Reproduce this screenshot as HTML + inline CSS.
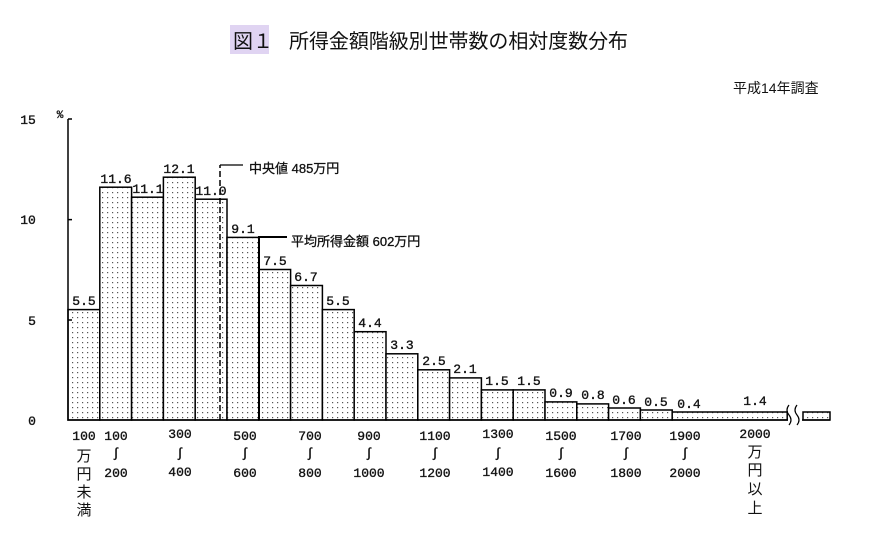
<!DOCTYPE html>
<html><head><meta charset="utf-8"><style>
html,body{margin:0;padding:0;background:#fff;}
svg{display:block;}
.n{font-family:"Liberation Mono",monospace;font-size:13px;fill:#111;stroke:#111;stroke-width:0.35;}
.j{font-family:"Liberation Sans","Noto Sans CJK JP",sans-serif;fill:#111;}
</style></head><body>
<svg width="870" height="540" viewBox="0 0 870 540" xmlns="http://www.w3.org/2000/svg">
<defs>
<pattern id="d" width="5" height="5" patternUnits="userSpaceOnUse">
<rect width="5" height="5" fill="#fff"/><rect x="2" y="2" width="1.2" height="1.2" fill="#555"/>
</pattern>
</defs>
<rect x="230" y="25" width="39" height="29" fill="#e0d4f2"/>
<text x="233" y="48" class="j" font-size="20">図１</text>
<text x="289" y="48" class="j" font-size="20" textLength="339">所得金額階級別世帯数の相対度数分布</text>
<text x="733" y="93" class="j" font-size="14">平成14年調査</text>

<g stroke="#000" stroke-width="1.5" fill="url(#d)">
<rect x="68" y="309.6" width="31.8" height="110.4"/>
<rect x="99.8" y="187.2" width="31.8" height="232.8"/>
<rect x="131.6" y="197.2" width="31.8" height="222.8"/>
<rect x="163.4" y="177.2" width="31.8" height="242.8"/>
<rect x="195.2" y="199.2" width="31.8" height="220.8"/>
<rect x="227" y="237.4" width="31.8" height="182.6"/>
<rect x="258.8" y="269.5" width="31.8" height="150.5"/>
<rect x="290.6" y="285.5" width="31.8" height="134.5"/>
<rect x="322.4" y="309.6" width="31.8" height="110.4"/>
<rect x="354.2" y="331.7" width="31.8" height="88.3"/>
<rect x="386" y="353.8" width="31.8" height="66.2"/>
<rect x="417.8" y="369.8" width="31.8" height="50.2"/>
<rect x="449.6" y="377.9" width="31.8" height="42.1"/>
<rect x="481.4" y="389.9" width="31.8" height="30.1"/>
<rect x="513.2" y="389.9" width="31.8" height="30.1"/>
<rect x="545" y="401.9" width="31.8" height="18.1"/>
<rect x="576.8" y="403.9" width="31.8" height="16.1"/>
<rect x="608.6" y="408" width="31.8" height="12"/>
<rect x="640.4" y="410" width="31.8" height="10"/>
<rect x="672.2" y="412" width="115" height="8"/>
<rect x="803" y="412" width="27" height="8"/>
</g>
<rect x="788" y="405" width="14" height="20" fill="#fff"/>
<path d="M789 405 q-4 5 0 10 q4 5 0 10 M797 405 q-4 5 0 10 q4 5 0 10" stroke="#000" stroke-width="1.2" fill="none"/>
<g stroke="#000" stroke-width="1.5" fill="none">
<path d="M68 119 V420 H788 M802 420 H830"/>
<path d="M68 119 h4 M68 219.6 h4 M68 320 h4"/>
</g>
<path d="M220 200 H243 M220 165 H243" stroke="none" fill="none"/>
<path d="M220 165 H243" stroke="#000" stroke-width="1.3" fill="none"/>
<path d="M220 420 V165" stroke="#000" stroke-width="1.5" stroke-dasharray="6 3" fill="none"/>
<path d="M259 420 V237 H287" stroke="#000" stroke-width="2" fill="none"/>
<text x="249" y="173" class="j" font-size="13" stroke="#111" stroke-width="0.3">中央値 485万円</text>
<text x="291" y="246" class="j" font-size="13" stroke="#111" stroke-width="0.3">平均所得金額 602万円</text>

<g class="n" text-anchor="middle">
<text x="28" y="124">15</text><text x="28" y="224">10</text><text x="32" y="325">5</text><text x="32" y="425">0</text>
<text x="60" y="118" font-size="11">%</text>
<text x="84" y="305">5.5</text><text x="116" y="183">11.6</text><text x="148" y="193">11.1</text>
<text x="179" y="173">12.1</text><text x="211" y="195">11.0</text><text x="243" y="233">9.1</text>
<text x="275" y="265">7.5</text><text x="306" y="281">6.7</text><text x="338" y="305">5.5</text>
<text x="370" y="327">4.4</text><text x="402" y="349">3.3</text><text x="434" y="365">2.5</text>
<text x="465" y="373">2.1</text><text x="497" y="385">1.5</text><text x="529" y="385">1.5</text>
<text x="561" y="397">0.9</text><text x="593" y="399">0.8</text><text x="624" y="404">0.6</text>
<text x="656" y="406">0.5</text><text x="689" y="408">0.4</text><text x="755" y="405">1.4</text>

<text x="84" y="440">100</text>
<text x="116" y="440">100</text><text x="116" y="457">∫</text><text x="116" y="477">200</text>
<text x="180" y="438">300</text><text x="180" y="457">∫</text><text x="180" y="476">400</text>
<text x="245" y="440">500</text><text x="245" y="457">∫</text><text x="245" y="477">600</text>
<text x="310" y="440">700</text><text x="310" y="457">∫</text><text x="310" y="477">800</text>
<text x="369" y="440">900</text><text x="369" y="457">∫</text><text x="369" y="477">1000</text>
<text x="435" y="440">1100</text><text x="435" y="457">∫</text><text x="435" y="477">1200</text>
<text x="498" y="438">1300</text><text x="498" y="457">∫</text><text x="498" y="476">1400</text>
<text x="561" y="440">1500</text><text x="561" y="457">∫</text><text x="561" y="477">1600</text>
<text x="626" y="440">1700</text><text x="626" y="457">∫</text><text x="626" y="477">1800</text>
<text x="685" y="440">1900</text><text x="685" y="457">∫</text><text x="685" y="477">2000</text>
<text x="755" y="438">2000</text>
</g>
<g class="j" font-size="15" text-anchor="middle">
<text x="84" y="461">万</text><text x="84" y="479">円</text><text x="84" y="497">未</text><text x="84" y="515">満</text>
<text x="755" y="457">万</text><text x="755" y="475">円</text><text x="755" y="494">以</text><text x="755" y="513">上</text>
</g>
</svg>
</body></html>
